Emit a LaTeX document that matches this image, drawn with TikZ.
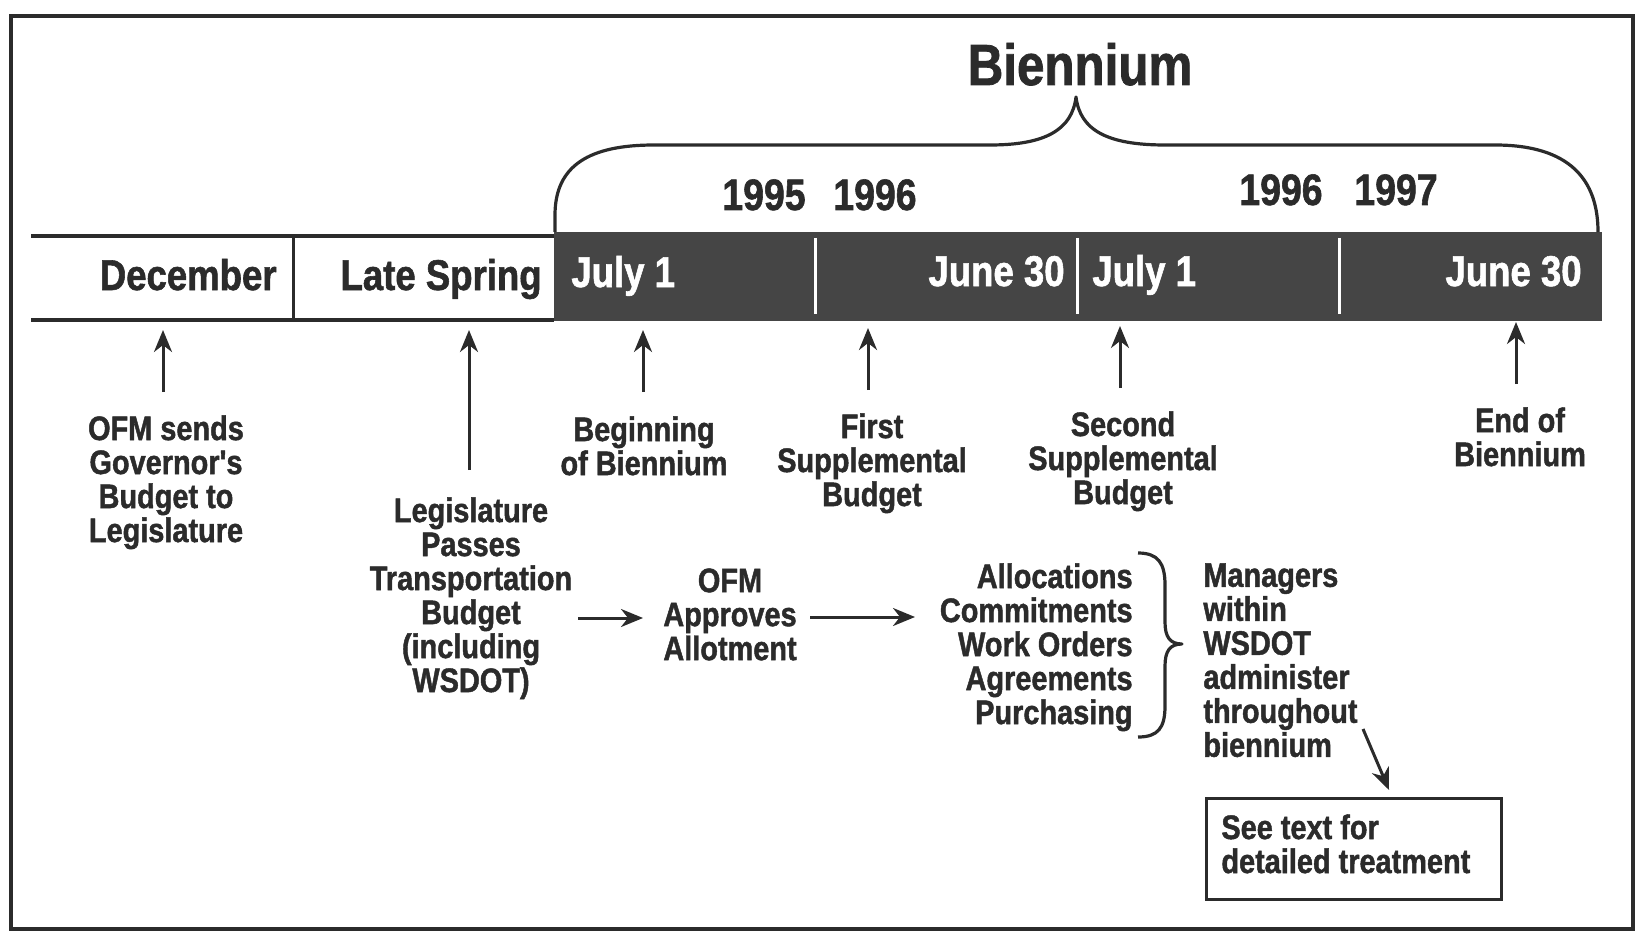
\documentclass[tikz,border=0pt]{standalone}
\usepackage{fontspec}
\usetikzlibrary{arrows.meta}
\newfontfamily\cf[FakeStretch=0.85,FakeBold=1.3]{Liberation Sans Bold}
\definecolor{ink}{gray}{0.17}
\definecolor{bandc}{gray}{0.27}
\begin{document}
\begin{tikzpicture}[x=0.5pt,y=-0.5pt,
  lbl/.style={font=\cf\fontsize{17}{17}\selectfont, text=ink, inner sep=0pt, align=center},
  bandlbl/.style={font=\cf\fontsize{21.5}{22}\selectfont, text=white, inner sep=0pt},
  celllbl/.style={font=\cf\fontsize{21.5}{22}\selectfont, text=ink, inner sep=0pt},
  yr/.style={font=\cf\fontsize{22}{22}\selectfont, text=ink, inner sep=0pt},
  arr/.style={draw=ink, line width=1.5pt, -{Stealth[length=11pt,width=9pt,inset=3.5pt]}},
  rule/.style={draw=ink, line width=2pt},
  bracel/.style={draw=ink, line width=1.6pt, line join=round}]
\useasboundingbox (0,0) rectangle (1642,936);
% frame
\draw[draw=ink, line width=2.2pt] (11,16) rectangle (1633,929);
% timeline
\fill[bandc] (554,232) rectangle (1602,321);
\draw[rule] (31,236) -- (554,236);
\draw[rule] (31,320) -- (554,320);
\draw[draw=ink, line width=1.5pt] (293,236) -- (293,320);
\foreach \x in {815,1077,1339} \draw[white, line width=1.5pt] (\x,238) -- (\x,314);
% cell labels
\node[celllbl, anchor=base east] (dec) at (277,290) {December};
\node[celllbl, anchor=base east] (spring) at (542,290) {Late Spring};
\node[bandlbl, anchor=base west] (jul1) at (571,287) {July 1};
\node[bandlbl, anchor=base east] (jun1) at (1065,286) {June 30};
\node[bandlbl, anchor=base west] (jul2) at (1092,286) {July 1};
\node[bandlbl, anchor=base east] (jun2) at (1582,286) {June 30};
% years
\node[yr, anchor=base west] (y95) at (722,210) {1995};
\node[yr, anchor=base west] (y96a) at (833,210) {1996};
\node[yr, anchor=base west] (y96b) at (1239,205) {1996};
\node[yr, anchor=base west] (y97) at (1354,205) {1997};
% biennium brace
\draw[bracel] (555,232) -- (555,215) .. controls (555,165) and (590,145) .. (654,145)
  -- (990,145) .. controls (1045,145) and (1072,130) .. (1076,97)
  .. controls (1080,130) and (1107,145) .. (1165,145)
  -- (1495,145) .. controls (1570,145) and (1598,180) .. (1598,232);
\node[font=\cf\fontsize{29}{29}\selectfont, text=ink, inner sep=0pt, anchor=base] (bien) at (1080,85) {Biennium};
% labels
\node[lbl, anchor=north] (ofm) at (166,415) {OFM sends\\Governor's\\Budget to\\Legislature};
\node[lbl, anchor=north] (beg) at (644,416) {Beginning\\of Biennium};
\node[lbl, anchor=north] (first) at (872,413) {First\\Supplemental\\Budget};
\node[lbl, anchor=north] (second) at (1123,411) {Second\\Supplemental\\Budget};
\node[lbl, anchor=north] (endb) at (1520,407) {End of\\Biennium};
\node[lbl, anchor=north] (leg) at (471,497) {Legislature\\Passes\\Transportation\\Budget\\(including\\WSDOT)};
\node[lbl, anchor=north] (appr) at (730,568) {OFM\\Approves\\Allotment};
\node[lbl, anchor=north east, align=right] (alloc) at (1133,563) {Allocations\\Commitments\\Work Orders\\Agreements\\Purchasing};
\node[lbl, anchor=north west, align=left] (mgr) at (1203,563) {Managers\\within\\WSDOT\\administer\\throughout\\biennium};
\node[draw=ink, line width=1.6pt, anchor=north west, minimum width=147.5pt, minimum height=50.5pt, inner sep=0pt] (box) at (1205,797) {};
\node[lbl, anchor=north west, align=left] (boxt) at (1221,814) {See text for\\detailed treatment};
% up arrows
\coordinate (s1) at (163,392); \coordinate (t1) at (163,330);
\coordinate (s2) at (469,470); \coordinate (t2) at (469,330);
\coordinate (s3) at (643,392); \coordinate (t3) at (643,330);
\coordinate (s4) at (868,390); \coordinate (t4) at (868,328);
\coordinate (s5) at (1120,388); \coordinate (t5) at (1120,326);
\coordinate (s6) at (1516,384); \coordinate (t6) at (1516,322);
\foreach \i in {1,...,6} \draw[arr] (s\i) -- (t\i);
% flow arrows
\coordinate (h1s) at (578,618); \coordinate (h1t) at (643,618);
\coordinate (h2s) at (810,617); \coordinate (h2t) at (915,617);
\draw[arr] (h1s) -- (h1t);
\draw[arr] (h2s) -- (h2t);
\coordinate (ds) at (1363,729); \coordinate (dt) at (1389,790);
\draw[arr] (ds) -- (dt);
% right brace
\draw[bracel] (1138,553) .. controls (1158,553) and (1165,563) .. (1165,585)
  -- (1165,622) .. controls (1165,637) and (1170,644) .. (1182,644)
  .. controls (1170,644) and (1165,651) .. (1165,666)
  -- (1165,706) .. controls (1165,728) and (1158,737) .. (1138,737);
\end{tikzpicture}
\end{document}
